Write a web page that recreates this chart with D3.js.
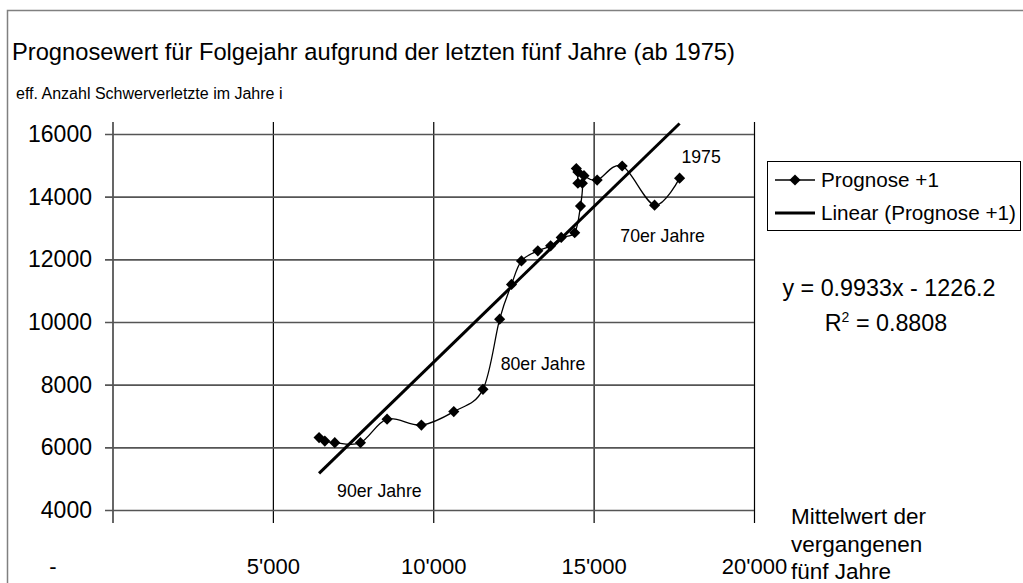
<!DOCTYPE html>
<html>
<head>
<meta charset="utf-8">
<script src="https://cdn.jsdelivr.net/npm/d3@7"></script>
<style>
  body { margin: 0; background: #fff; }
  svg text { font-family: "Liberation Sans", Arial, sans-serif; fill: #000; }
  .domain { display: none; }
</style>
</head>
<body>
<svg width="1023" height="583"></svg>
<script>
// mean of the past five years (x) and effective value in year i (y), from 1975 on
var xMean    = [17680, 16900, 15890, 15110, 14700, 14460, 14510, 14510, 14650, 14590,
                14410, 13990, 13660, 13260, 12750, 12440, 12070, 11550, 10640, 9630,
                8560, 7730, 6930, 6620, 6440];
var prognose = [14590, 13730, 14980, 14530, 14670, 14900, 14790, 14430, 14430, 13700,
                12850, 12700, 12430, 12270, 11950, 11200, 10090, 7850, 7140, 6710,
                6900, 6150, 6150, 6200, 6310];

var xTicks = [0, 5000, 10000, 15000, 20000];
var yTicks = [4000, 6000, 8000, 10000, 12000, 14000, 16000];

var trendSlope = 0.9933;
var trendIntercept = -1226.2;

var notes = [
  { text: "1975",       x: 18350, y: 15270 },
  { text: "70er Jahre", x: 17150, y: 12750 },
  { text: "80er Jahre", x: 13420, y: 8660 },
  { text: "90er Jahre", x: 8320,  y: 4610 }
];

var xTitle = ["Mittelwert der", "vergangenen", "fünf Jahre"];

var svg = d3.select("svg");

// outer chart frame (runs off the right/bottom edge)
svg.append("rect")
   .attr("x", 7.5).attr("y", 10.5)
   .attr("width", 1100).attr("height", 1000)
   .attr("fill", "none")
   .attr("stroke", "#808080")
   .attr("stroke-width", 1.5);

var scaleX = d3.scaleLinear().domain([0, 20000]).range([112.5, 754]);
var scaleY = d3.scaleLinear().domain([4000, 16000]).range([510, 134]);

var apos = d3.formatLocale({ decimal: ".", thousands: "'", grouping: [3], currency: ["", ""] });
var fmtX = apos.format(",d");

// x axis with vertical grid
var gridTop = 122, gridBottom = 523;
var xAxis = d3.axisBottom(scaleX)
              .tickValues(xTicks)
              .tickSizeInner(-(gridBottom - gridTop))
              .tickSizeOuter(0)
              .tickPadding(35)
              .tickFormat(function(d) { return d === 0 ? "-" : fmtX(d); });

var gx = svg.append("g")
            .attr("transform", "translate(0," + gridBottom + ")")
            .call(xAxis);
gx.selectAll("line").attr("stroke", "#000").attr("stroke-width", 1.2);
gx.selectAll("text").style("font-size", "22px");
gx.selectAll("text").filter(function(d) { return d === 0; }).attr("dx", -60);

// y axis with horizontal grid
var yAxis = d3.axisLeft(scaleY)
              .tickValues(yTicks)
              .tickSizeInner(-(754 - 105))
              .tickSizeOuter(0)
              .tickPadding(13)
              .tickFormat(d3.format("d"));

var gy = svg.append("g")
            .attr("transform", "translate(105,0)")
            .call(yAxis);
gy.selectAll("line").attr("stroke", "#555").attr("stroke-width", 1.6);
gy.selectAll("text").style("font-size", "23px");

// titles
svg.append("text").attr("x", 12).attr("y", 60)
   .style("font-size", "23.7px")
   .text("Prognosewert für Folgejahr aufgrund der letzten fünf Jahre (ab 1975)");
svg.append("text").attr("x", 16).attr("y", 99)
   .style("font-size", "16px")
   .text("eff. Anzahl Schwerverletzte im Jahre i");

// linear trend across the data range
var ext = d3.extent(xMean);
var trend = ext.map(function(v) { return [v, trendSlope * v + trendIntercept]; });
svg.append("path")
   .datum(trend)
   .attr("fill", "none")
   .attr("stroke", "#000")
   .attr("stroke-width", 3)
   .attr("d", d3.line()
                .x(function(d) { return scaleX(d[0]); })
                .y(function(d) { return scaleY(d[1]); }));

// smoothed series line
var pts = xMean.map(function(v, i) { return [v, prognose[i]]; });
svg.append("path")
   .datum(pts)
   .attr("fill", "none")
   .attr("stroke", "#000")
   .attr("stroke-width", 1.3)
   .attr("d", d3.line()
                .curve(d3.curveCardinal.tension(0))
                .x(function(d) { return scaleX(d[0]); })
                .y(function(d) { return scaleY(d[1]); }));

var diamond = d3.symbol().type(d3.symbolSquare).size(62);
svg.selectAll(".pt")
   .data(pts)
   .enter()
   .append("path")
   .attr("class", "pt")
   .attr("d", diamond)
   .attr("transform", function(d) {
      return "translate(" + scaleX(d[0]) + "," + scaleY(d[1]) + ") rotate(45)";
   })
   .attr("fill", "#000");

// annotations
svg.selectAll(".note")
   .data(notes)
   .enter()
   .append("text")
   .attr("class", "note")
   .attr("x", function(d) { return scaleX(d.x); })
   .attr("y", function(d) { return scaleY(d.y); })
   .attr("dy", "0.35em")
   .attr("text-anchor", "middle")
   .style("font-size", "17.7px")
   .text(function(d) { return d.text; });

// legend
var legend = svg.append("g").attr("transform", "translate(767,161)");
legend.append("rect")
      .attr("x", 0.5).attr("y", 0.5)
      .attr("width", 253).attr("height", 69)
      .attr("fill", "#fff")
      .attr("stroke", "#000")
      .attr("stroke-width", 1);
legend.append("line").attr("x1", 8).attr("x2", 48).attr("y1", 19).attr("y2", 19)
      .attr("stroke", "#000").attr("stroke-width", 1.3);
legend.append("path").attr("d", diamond)
      .attr("transform", "translate(28,19) rotate(45)").attr("fill", "#000");
legend.append("line").attr("x1", 8).attr("x2", 48).attr("y1", 52).attr("y2", 52)
      .attr("stroke", "#000").attr("stroke-width", 3);
legend.append("text").attr("x", 54).attr("y", 19).attr("dy", "0.35em")
      .style("font-size", "20.7px").text("Prognose +1");
legend.append("text").attr("x", 54).attr("y", 52).attr("dy", "0.35em")
      .style("font-size", "20.7px").text("Linear (Prognose +1)");

// trend equation
svg.append("text").attr("x", 889).attr("y", 296)
   .attr("text-anchor", "middle").style("font-size", "23.3px")
   .text("y = 0.9933x - 1226.2");
var r2 = svg.append("text").attr("x", 886).attr("y", 331)
            .attr("text-anchor", "middle").style("font-size", "23.3px");
r2.append("tspan").text("R");
r2.append("tspan").attr("dy", -9).style("font-size", "14px").text("2");
r2.append("tspan").attr("dy", 9).text(" = 0.8808");

// x axis title on the right
var xt = svg.append("text").attr("x", 791).attr("y", 524).style("font-size", "22.5px");
xTitle.forEach(function(s, i) {
  xt.append("tspan").attr("x", 791).attr("dy", i === 0 ? 0 : 27.5).text(s);
});
</script>
</body>
</html>
